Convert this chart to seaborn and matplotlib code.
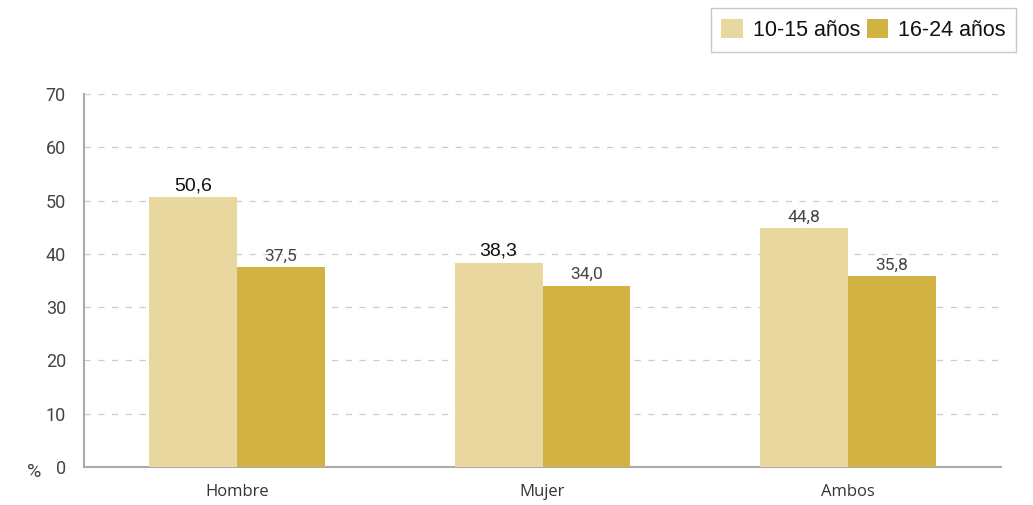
import matplotlib
matplotlib.use("Agg")
import matplotlib.pyplot as plt
import seaborn as sns
import pandas as pd
from matplotlib.ticker import FixedLocator
from matplotlib.patches import Patch

categories = ["Hombre", "Mujer", "Ambos"]
series_names = ["10-15 años", "16-24 años"]
values_10_15 = [50.6, 38.3, 44.8]
values_16_24 = [37.5, 34.0, 35.8]
label_10_15 = ["50,6", "38,3", "44,8"]
label_16_24 = ["37,5", "34,0", "35,8"]
y_ticks = [0, 10, 20, 30, 40, 50, 60, 70]

df = pd.DataFrame({
    "cat": categories * 2,
    "serie": [series_names[0]] * 3 + [series_names[1]] * 3,
    "val": values_10_15 + values_16_24,
})

sns.set_theme(style="white")
plt.rcParams["font.family"] = ["Liberation Sans", "DejaVu Sans"]

fig = plt.figure(figsize=(10.33, 5.05), dpi=100)
ax = fig.add_axes([84 / 1033, 1 - 467 / 505, (1001 - 84) / 1033, (467 - 94) / 505])

palette = ["#E9D7A0", "#D3B244"]
sns.barplot(data=df, x="cat", y="val", hue="serie", palette=palette,
            width=0.575, saturation=1, ax=ax, legend=False, zorder=3,
            linewidth=0, edgecolor="none")

ax.set_xlim(-0.5, 2.5)
ax.set_ylim(0, 70)
ax.set_yticks(y_ticks)
ax.set_yticklabels([str(t) for t in y_ticks], fontsize=13, color="#444444",
                   family=["Roboto", "DejaVu Sans"])
ax.yaxis.grid(True, linestyle=(0, (5, 6)), color="#cccccc", linewidth=0.9, zorder=0)
ax.xaxis.grid(False)
ax.set_xlabel("")
ax.set_ylabel("")
ax.tick_params(axis="x", length=0, pad=12)
for lab in ax.get_xticklabels():
    lab.set_fontfamily(["Open Sans", "DejaVu Sans"])
    lab.set_fontsize(12)
    lab.set_color("#333333")
ax.xaxis.set_minor_locator(FixedLocator([-0.5, 0.5, 1.5, 2.5]))
ax.tick_params(axis="x", which="minor", length=4, color="#aaaaaa", width=1.5, direction="out")
ax.tick_params(axis="y", length=5, color="#aaaaaa", width=1.5, pad=8)

for s in ["top", "right"]:
    ax.spines[s].set_visible(False)
for s in ["left", "bottom"]:
    ax.spines[s].set_color("#aaaaaa")
    ax.spines[s].set_linewidth(1.5)

# value labels
conts = ax.containers
big = {0, 1}
for i, rect in enumerate(conts[0]):
    x = rect.get_x() + rect.get_width() / 2
    h = rect.get_height()
    if i in big:
        ax.text(x, h + 0.6, label_10_15[i], ha="center", va="bottom",
                fontsize=14, color="#111111")
    else:
        ax.text(x, h + 0.7, label_10_15[i], ha="center", va="bottom",
                fontsize=12.5, color="#444444", family=["Roboto", "DejaVu Sans"])
for i, rect in enumerate(conts[1]):
    x = rect.get_x() + rect.get_width() / 2
    h = rect.get_height()
    ax.text(x, h + 0.7, label_16_24[i], ha="center", va="bottom",
            fontsize=12.5, color="#444444", family=["Roboto", "DejaVu Sans"])

fig.text(27 / 1033, 1 - 472 / 505, "%", fontsize=14, color="#444444", ha="left", va="center",
         family=["Roboto", "DejaVu Sans"])

# legend
handles = [Patch(facecolor=palette[0], edgecolor="none"),
           Patch(facecolor=palette[1], edgecolor="none")]
leg = fig.legend(handles, series_names, loc="upper right",
                 bbox_to_anchor=(1016 / 1033, 1 - 8 / 505), ncol=2,
                 fontsize=15.5, frameon=True, fancybox=False,
                 handlelength=1.0, handleheight=1.0, handletextpad=0.45,
                 columnspacing=0.3, borderpad=0.5, borderaxespad=0)
leg.get_frame().set_edgecolor("#bbbbbb")
leg.get_frame().set_linewidth(1.0)
for t in leg.get_texts():
    t.set_color("#111111")

fig.savefig("out.png", dpi=100)
